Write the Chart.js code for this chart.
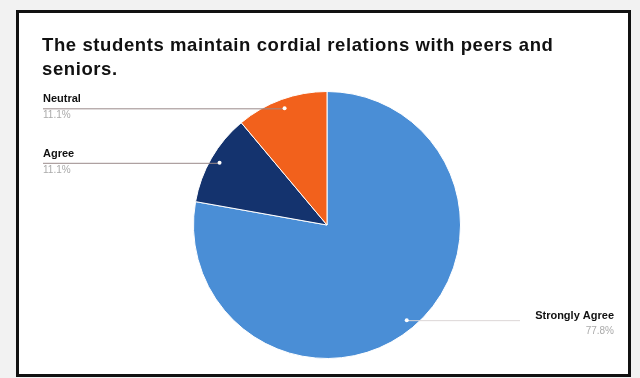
<!DOCTYPE html>
<html>
<head>
<meta charset="utf-8">
<script src="https://cdn.jsdelivr.net/npm/chart.js@4"></script>
<style>
  html, body { margin:0; padding:0; background:#f2f2f2; width:640px; height:378px; overflow:hidden; }
  #frame { position:absolute; left:16px; top:10px; width:609px; height:361px; border:3px solid #111; background:#fff; }
  #wrap { position:absolute; left:0; top:0; width:640px; height:378px; }
  #title { position:absolute; left:42px; top:33px; font-family:"Liberation Sans", Arial, sans-serif; font-weight:bold; font-size:18.5px; letter-spacing:0.6px; line-height:24px; color:#111; width:545px; }
</style>
</head>
<body>
<div id="frame"></div>
<div id="wrap"><canvas id="c" width="640" height="378"></canvas></div>
<div id="title">The students maintain cordial relations with peers and seniors.</div>
<script>
const categories = ["Strongly Agree", "Agree", "Neutral"];
const percentages = [77.8, 11.1, 11.1];
const percentLabels = ["77.8%", "11.1%", "11.1%"];
const sliceColors = ["#4a8ed6", "#14336e", "#f2611c"];

const labelPlugin = {
  id: 'sideLabels',
  afterDatasetsDraw(chart) {
    const ctx = chart.ctx;
    const meta = chart.getDatasetMeta(0);
    ctx.save();
    meta.data.forEach((arc, i) => {
      const mid = (arc.startAngle + arc.endAngle) / 2;
      const r = arc.outerRadius * 0.93;
      const dx = arc.x + Math.cos(mid) * r;
      const dy = arc.y + Math.sin(mid) * r;
      const right = Math.cos(mid) > 0;
      ctx.lineWidth = 1;
      let tx;
      if (right) {
        ctx.strokeStyle = '#dcd6d6';
        ctx.beginPath(); ctx.moveTo(dx, dy + 0.5); ctx.lineTo(520, dy + 0.5); ctx.stroke();
        tx = 614; ctx.textAlign = 'right';
      } else {
        ctx.strokeStyle = '#9a8a8a';
        ctx.beginPath(); ctx.moveTo(43, dy + 0.5); ctx.lineTo(dx, dy + 0.5); ctx.stroke();
        tx = 43; ctx.textAlign = 'left';
      }
      ctx.fillStyle = '#fff';
      ctx.beginPath(); ctx.arc(dx, dy, 2, 0, Math.PI * 2); ctx.fill();
      ctx.textBaseline = 'middle';
      ctx.fillStyle = '#111';
      ctx.font = 'bold 11px "Liberation Sans", Arial, sans-serif';
      ctx.fillText(categories[i], tx, right ? dy - 4 : dy - 9);
      ctx.fillStyle = '#aaa';
      ctx.font = '10px "Liberation Sans", Arial, sans-serif';
      ctx.fillText(percentLabels[i], tx, right ? dy + 11 : dy + 7);
    });
    ctx.restore();
  }
};

new Chart(document.getElementById('c'), {
  type: 'pie',
  data: {
    labels: categories,
    datasets: [{
      data: percentages,
      backgroundColor: sliceColors,
      borderColor: '#ffffff',
      borderWidth: 1
    }]
  },
  options: {
    responsive: false,
    animation: false,
    layout: { padding: { top: 91, bottom: 19, left: 193, right: 179 } },
    plugins: { legend: { display: false }, title: { display: false }, tooltip: { enabled: false } }
  },
  plugins: [labelPlugin]
});
</script>
</body>
</html>
